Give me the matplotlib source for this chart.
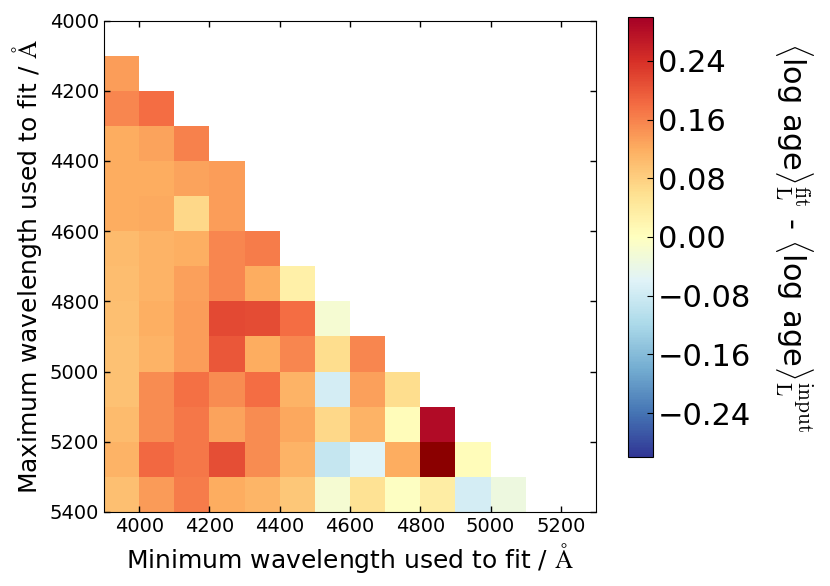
import numpy as np
import matplotlib
matplotlib.use('Agg')
import matplotlib.pyplot as plt
from matplotlib.ticker import FuncFormatter

plt.rcParams['mathtext.fontset'] = 'cm'
plt.rcParams['xtick.direction'] = 'in'
plt.rcParams['ytick.direction'] = 'in'
plt.rcParams['xtick.top'] = True
plt.rcParams['ytick.right'] = True

# lower edges of the wavelength bins (Angstrom)
wl_min = [3900, 4000, 4100, 4200, 4300, 4400, 4500, 4600, 4700, 4800, 4900, 5000]
wl_max = [4100, 4200, 4300, 4400, 4500, 4600, 4700, 4800, 4900, 5000, 5100, 5200, 5300]

# <log age>_L fit - input, one row per maximum wavelength
d4100 = [0.135]
d4200 = [0.155, 0.18]
d4300 = [0.12, 0.13, 0.16]
d4400 = [0.12, 0.12, 0.13, 0.135]
d4500 = [0.12, 0.123, 0.07, 0.135]
d4600 = [0.105, 0.113, 0.118, 0.155, 0.165]
d4700 = [0.103, 0.113, 0.133, 0.157, 0.121, 0.03]
d4800 = [0.1, 0.118, 0.135, 0.215, 0.213, 0.18, -0.02]
d4900 = [0.098, 0.113, 0.135, 0.2, 0.12, 0.157, 0.062, 0.157]
d5000 = [0.098, 0.152, 0.178, 0.15, 0.18, 0.113, -0.075, 0.133, 0.062]
d5100 = [0.105, 0.15, 0.17, 0.13, 0.152, 0.125, 0.07, 0.113, 0.005, 0.285]
d5200 = [0.113, 0.183, 0.17, 0.21, 0.152, 0.113, -0.09, -0.06, 0.12, 0.35, 0.005]
d5300 = [0.1, 0.137, 0.165, 0.121, 0.112, 0.09, -0.02, 0.055, -0.003, 0.035, -0.075, -0.035]
rows = [d4100, d4200, d4300, d4400, d4500, d4600, d4700,
        d4800, d4900, d5000, d5100, d5200, d5300]

cb_ticks = [-0.24, -0.16, -0.08, 0.0, 0.08, 0.16, 0.24]

grid = np.full((len(wl_max), len(wl_min)), np.nan)
for i, r in enumerate(rows):
    grid[i, :len(r)] = r
grid = np.ma.masked_invalid(grid)

xedges = np.append(wl_min, wl_min[-1] + 100)
yedges = np.append(wl_max, wl_max[-1] + 100)

cmap = plt.get_cmap('RdYlBu_r').copy()
cmap.set_over('darkred')
cmap.set_bad('white')

fig = plt.figure(figsize=(8.3, 5.86), dpi=100)
ax = fig.add_axes([0.1253, 0.1263, 0.5928, 0.8387])
mesh = ax.pcolormesh(xedges, yedges, grid, cmap=cmap, vmin=-0.3, vmax=0.3)
ax.set_xlim(3900, 5300)
ax.set_ylim(5400, 4000)
ax.set_xticks(np.arange(4000, 5201, 200))
ax.set_yticks(np.arange(4000, 5401, 200))
ax.tick_params(labelsize=14, length=4, width=1)
ax.set_xlabel(r'Minimum wavelength used to fit / $\mathrm{\AA}$', fontsize=18)
ax.set_ylabel(r'Maximum wavelength used to fit / $\mathrm{\AA}$', fontsize=18)

cax = fig.add_axes([0.7563, 0.2201, 0.0301, 0.751])
fmt = FuncFormatter(lambda v, p: ('%.2f' % v).replace('-', '\u2212'))
cb = fig.colorbar(mesh, cax=cax, ticks=cb_ticks, format=fmt)
cb.ax.tick_params(labelsize=22, length=4, direction='in')
cb.set_label(r'$\langle$log age$\rangle_{\rm L}^{\rm fit}$ - $\langle$log age$\rangle_{\rm L}^{\rm input}$',
             fontsize=22, rotation=270, labelpad=46)

fig.savefig('out.png', dpi=100)
